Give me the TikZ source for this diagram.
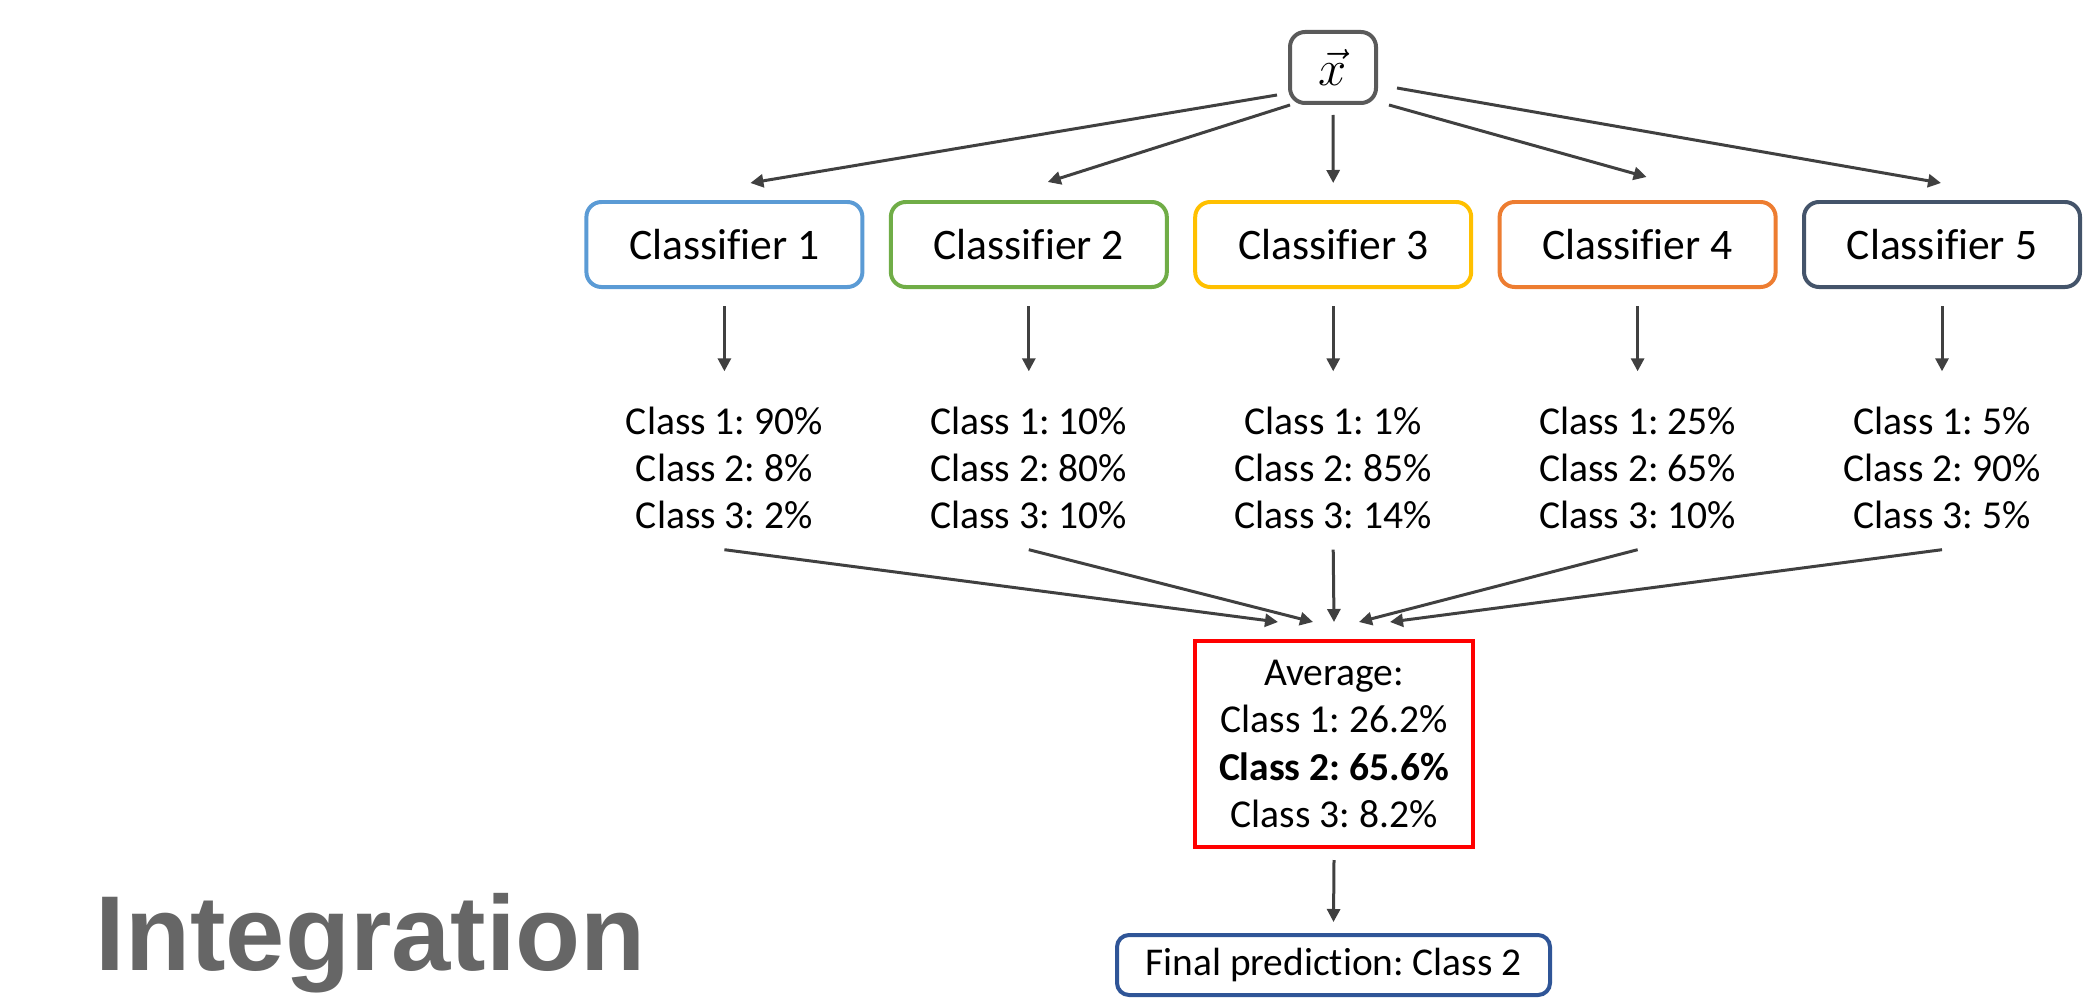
\documentclass[tikz,border=0pt]{standalone}
\usepackage{amsmath}
\usepackage{fontspec}
\setmainfont{Carlito}[Ligatures=NoCommon]
\newfontfamily\headfont{Liberation Sans}
\usepackage{tikz}
\usetikzlibrary{arrows.meta,positioning}
\frenchspacing

\definecolor{cone}{HTML}{5B9BD5}
\definecolor{ctwo}{HTML}{70AD47}
\definecolor{cthree}{HTML}{FFC000}
\definecolor{cfour}{HTML}{ED7D31}
\definecolor{cfive}{HTML}{44546A}
\definecolor{finc}{HTML}{2F5597}
\definecolor{xgray}{HTML}{5A5A5A}
\definecolor{arrc}{HTML}{404040}
\definecolor{headc}{HTML}{666666}

\tikzset{
  clf/.style={draw, line width=0.04cm, rounded corners=0.15cm, minimum width=2.76cm,
    minimum height=0.85cm, inner sep=0pt, font=\fontsize{12.4}{15}\selectfont},
  probs/.style={align=center, inner sep=0pt, font=\fontsize{11.25}{13.4}\selectfont},
  arr/.style={draw=arrc, line width=0.03cm, -{Triangle[length=0.13cm,width=0.13cm]}}
}

\begin{document}
\begin{tikzpicture}
  \useasboundingbox (0,0) rectangle (20.96,-9.99);
  \node[draw=xgray, line width=0.04cm, rounded corners=0.15cm, minimum width=0.86cm,
    minimum height=0.71cm, inner sep=0pt] (xv) at (13.33,-0.675) {\fontsize{13.5}{16}\selectfont$\vec{x}$};
  \foreach \i/\col/\a/\b/\c in {1/cone/90/8/2, 2/ctwo/10/80/10, 3/cthree/1/85/14, 4/cfour/25/65/10, 5/cfive/5/90/5} {
    \node[clf, draw=\col] (c\i) at (4.2+3.044*\i,-2.445) {Classifier \i};
    \node[probs] (t\i) at (4.2+3.044*\i,-4.68) {Class 1: \a\%\\Class 2: \b\%\\Class 3: \c\%};
    \draw[arr] ([yshift=-0.17cm]c\i.south) -- ([yshift=0.35cm]t\i.north);
  }
  \draw[arr] ([xshift=-0.11cm,yshift=-0.275cm]xv.west) -- ([xshift=0.26cm,yshift=0.17cm]c1.north);
  \draw[arr] ([xshift=0.02cm]xv.south west) -- ([xshift=0.19cm,yshift=0.18cm]c2.north);
  \draw[arr] ([yshift=-0.1cm]xv.south) -- ([yshift=0.17cm]c3.north);
  \draw[arr] ([xshift=0.11cm]xv.south east) -- ([xshift=0.09cm,yshift=0.23cm]c4.north);
  \draw[arr] ([xshift=0.19cm,yshift=-0.205cm]xv.east) -- ([xshift=-0.01cm,yshift=0.17cm]c5.north);
  % averaging box
  \node[draw=red, line width=0.04cm, minimum width=2.78cm, minimum height=2.06cm, inner sep=0pt,
    align=center, font=\fontsize{11.25}{13.4}\selectfont] (avg) at (13.34,-7.44)
    {Average:\\Class 1: 26.2\%\\\textbf{Class 2: 65.6\%}\\Class 3: 8.2\%};
  \foreach \i/\dx in {1/-0.56, 2/-0.21, 3/0, 4/0.25, 5/0.56}
    \draw[arr] ([yshift=-0.2cm]t\i.south) -- ([xshift=\dx cm,yshift=0.17cm]avg.north);
  \node[draw=finc, line width=0.04cm, rounded corners=0.12cm, minimum width=4.33cm, minimum height=0.6cm,
    inner sep=0pt, font=\fontsize{11.2}{13.4}\selectfont] (fin) at (13.335,-9.65) {Final prediction: Class 2};
  \draw[arr] ([yshift=-0.11cm]avg.south) -- ([yshift=0.11cm]fin.north);
  \node[anchor=base west, inner sep=0pt, text=headc, font=\headfont\bfseries\fontsize{30.3}{36}\selectfont]
    (title) at (0.95,-9.70) {Integration};
\end{tikzpicture}
\end{document}
